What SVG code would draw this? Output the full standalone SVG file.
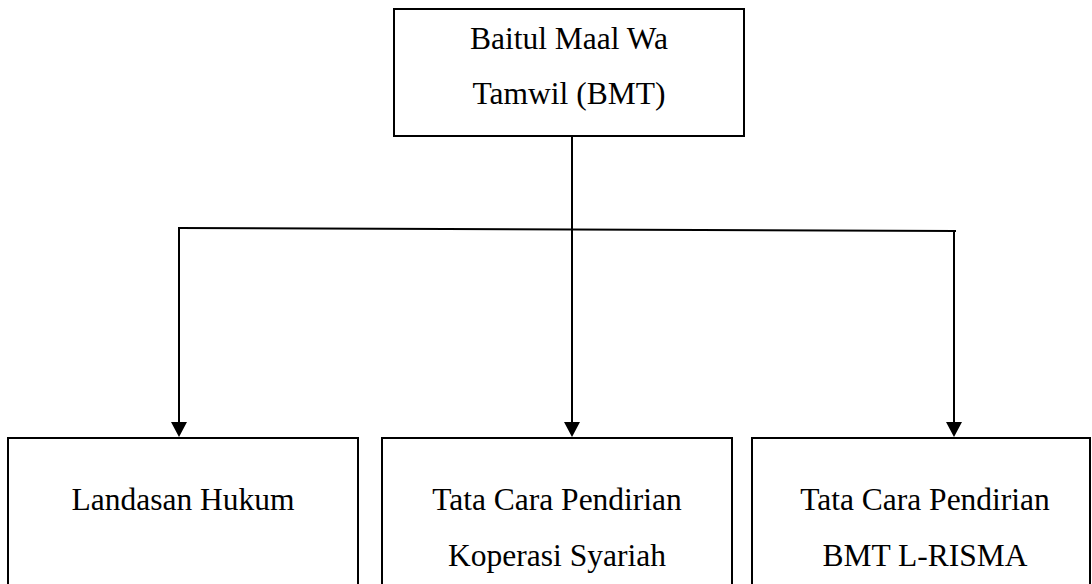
<svg xmlns="http://www.w3.org/2000/svg" width="1092" height="584" viewBox="0 0 1092 584">
<style>
.box{fill:#fff;stroke:#000;stroke-width:2}
.t{font-family:"Liberation Serif","Times New Roman",serif;font-size:31.5px;fill:#000;text-anchor:middle}
.c{stroke:#000;stroke-width:2;fill:none}
</style>
<defs>
<marker id="ah" markerUnits="userSpaceOnUse" markerWidth="16" markerHeight="15" refX="8" refY="15" orient="auto-start-reverse" viewBox="0 0 16 15">
<path d="M0,0 L16,0 L8,15 Z" fill="#000" transform="rotate(0)"/>
</marker>
</defs>
<rect width="1092" height="584" fill="#fff"/>
<g id="connectors">
<line class="c" x1="572" y1="136" x2="572" y2="229"/>
<line class="c" x1="178" y1="228" x2="956" y2="231"/>
<path class="c" d="M179,228 V422"/>
<path d="M171,422 L187,422 L179,437 Z" fill="#000"/>
<path class="c" d="M572,229 V422"/>
<path d="M564,422 L580,422 L572,437 Z" fill="#000"/>
<path class="c" d="M954,231 V422"/>
<path d="M946,422 L962,422 L954,437 Z" fill="#000"/>
</g>
<g id="bmt">
<rect class="box" x="394" y="9" width="350" height="127"/>
<text class="t" x="569" y="49">Baitul Maal Wa</text>
<text class="t" x="569" y="104">Tamwil (BMT)</text>
</g>
<g id="landasan">
<rect class="box" x="8" y="438" width="350" height="160"/>
<text class="t" x="183" y="510">Landasan Hukum</text>
</g>
<g id="koperasi">
<rect class="box" x="382" y="438" width="350" height="160"/>
<text class="t" x="557" y="510">Tata Cara Pendirian</text>
<text class="t" x="557" y="566">Koperasi Syariah</text>
</g>
<g id="lrisma">
<rect class="box" x="752" y="438" width="338" height="160"/>
<text class="t" x="925" y="510">Tata Cara Pendirian</text>
<text class="t" x="925" y="566">BMT L-RISMA</text>
</g>
</svg>
